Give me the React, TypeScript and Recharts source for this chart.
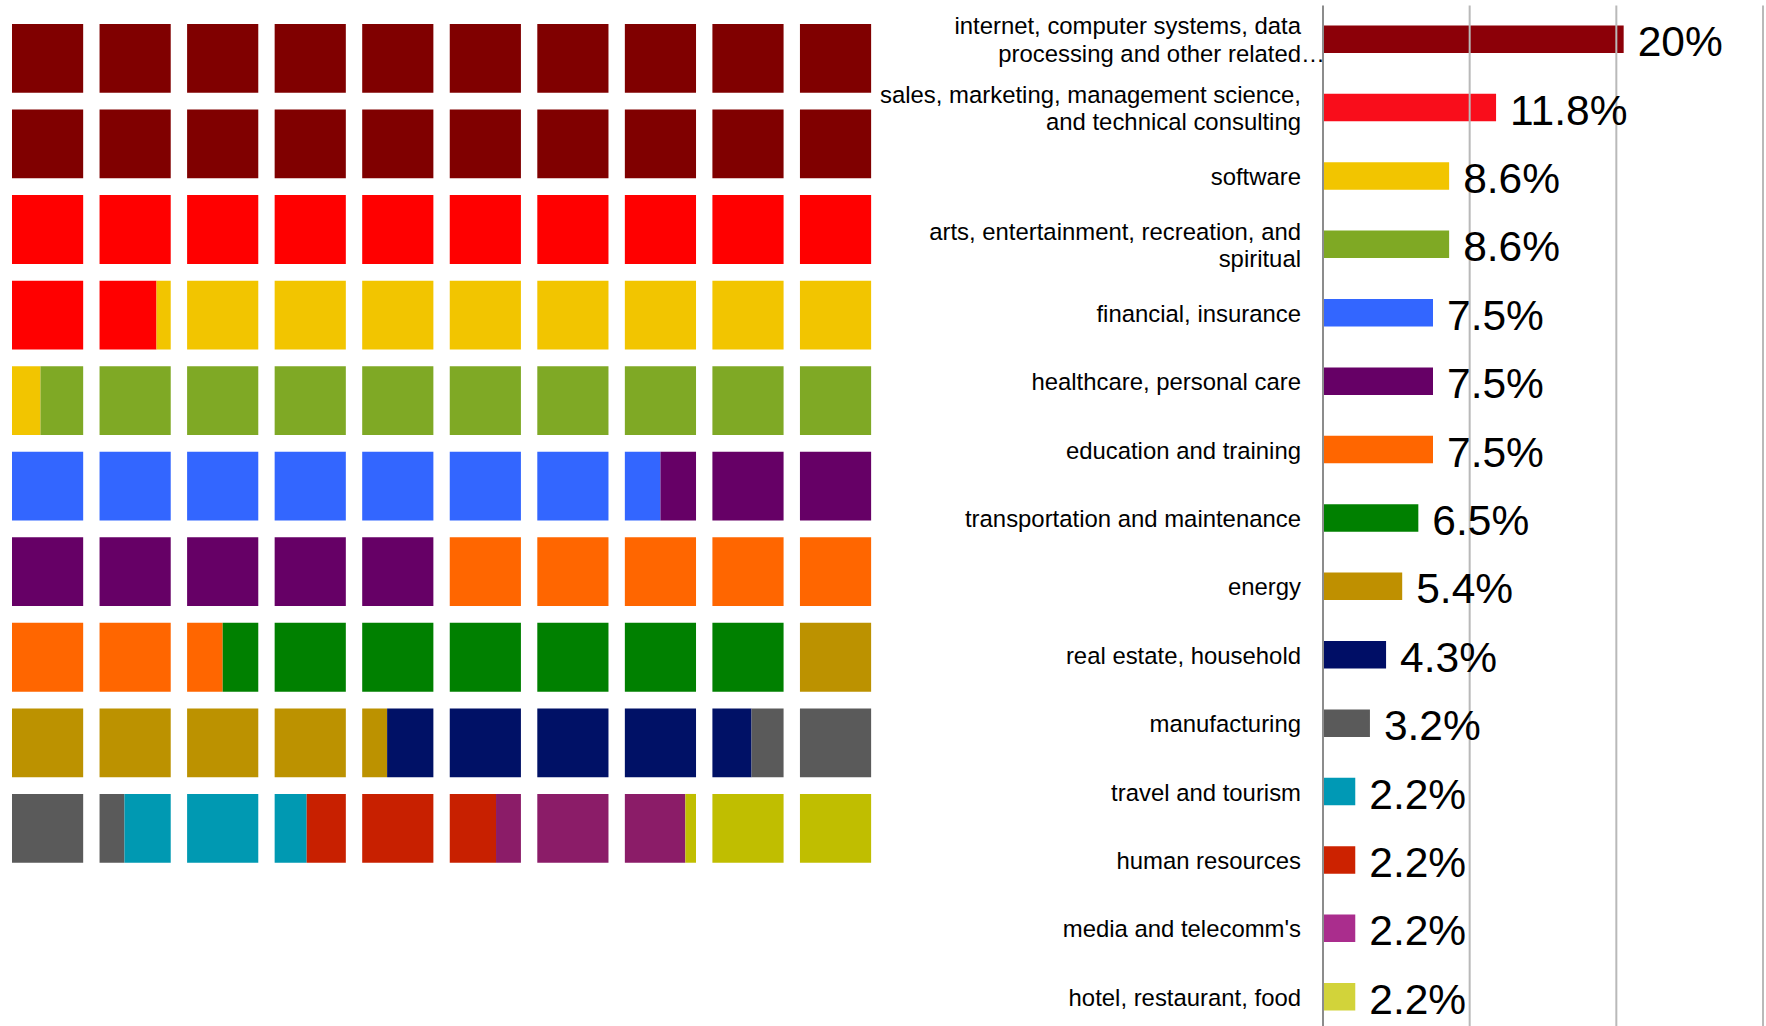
import React from 'react';
import {
  BarChart,
  Bar,
  XAxis,
  YAxis,
  Cell,
  LabelList,
  ReferenceLine,
  ReferenceArea,
  ComposedChart,
} from 'recharts';

// ---------- data ----------
const categories: string[] = [
  'internet, computer systems, data\nprocessing and other related…',
  'sales, marketing, management science,\nand technical consulting',
  'software',
  'arts, entertainment, recreation, and\nspiritual',
  'financial, insurance',
  'healthcare, personal care',
  'education and training',
  'transportation and maintenance',
  'energy',
  'real estate, household',
  'manufacturing',
  'travel and tourism',
  'human resources',
  "media and telecomm's",
  'hotel, restaurant, food',
];

const barValues: number[] = [20.5, 11.8, 8.6, 8.6, 7.5, 7.5, 7.5, 6.5, 5.4, 4.3, 3.2, 2.2, 2.2, 2.2, 2.2];

const barLabels: string[] = [
  '20%', '11.8%', '8.6%', '8.6%', '7.5%', '7.5%', '7.5%', '6.5%', '5.4%', '4.3%', '3.2%', '2.2%', '2.2%', '2.2%', '2.2%',
];

const barColors: string[] = [
  '#8c0008', '#f90d1b', '#f2c500', '#7fa924', '#3366ff', '#660066', '#ff6600', '#008000',
  '#bf9000', '#000e66', '#5a5a5a', '#0099b5', '#cc2200', '#aa2d8d', '#d2d33a',
];

// waffle shares (cells out of 100)
const waffleShares: number[] = [20, 11.8, 8.6, 9.6, 7.5, 7.5, 7.5, 6.5, 5.35, 4.2, 2.8, 2.1, 2.2, 2.2, 2.15];

const waffleColors: string[] = [
  '#800000', '#ff0000', '#f2c500', '#7fa925', '#3366ff', '#660066', '#ff6600', '#008000',
  '#bc9200', '#001166', '#5a5a5a', '#0099b2', '#c82000', '#8b1c68', '#c0be00',
];

const gridTicks: number[] = [10, 20, 30];

// ---------- derived ----------
const barData = categories.map((name, i) => ({
  name,
  value: barValues[i],
  label: barLabels[i],
}));

const CELL_W = 0.813; // filled fraction of a column pitch
const CELL_H = 0.804; // filled fraction of a row pitch

type Seg = { x1: number; x2: number; y1: number; y2: number; color: string };

const waffleSegments: Seg[] = (() => {
  const segs: Seg[] = [];
  let start = 0;
  waffleShares.forEach((share, i) => {
    const end = Math.round((start + share) * 1e6) / 1e6;
    const s = start;
    for (let k = Math.floor(s); k < Math.ceil(end) && k < 100; k++) {
      const a = Math.max(s, k) - k;
      const b = Math.min(end, k + 1) - k;
      if (b - a < 1e-6) continue;
      const col = k % 10;
      const row = Math.floor(k / 10);
      segs.push({
        x1: col + a * CELL_W,
        x2: col + b * CELL_W,
        y1: row,
        y2: row + CELL_H,
        color: waffleColors[i],
      });
    }
    start = end;
  });
  return segs;
})();

const FONT = '"Liberation Sans", Arial, Helvetica, sans-serif';
const CAT_FONT_SIZE = 23.9;

const CategoryTick = (props: any) => {
  const { x, y, payload } = props;
  const lines = String(payload.value).split('\n');
  const lh = 27.5;
  const tx = x - 22;
  return (
    <g>
      {lines.map((line: string, i: number) => {
        const by = y + (i - (lines.length - 1) / 2) * lh + 8.5;
        const ell = line.endsWith('…');
        const txt = ell ? line.slice(0, -1) : line;
        return (
          <g key={i}>
            <text x={tx} y={by} textAnchor="end" fontSize={CAT_FONT_SIZE} fontFamily={FONT} fill="#000">
              {txt}
            </text>
            {ell && (
              <text x={tx} y={by} textAnchor="start" fontSize={CAT_FONT_SIZE} fontFamily={FONT} fill="#000">
                …
              </text>
            )}
          </g>
        );
      })}
    </g>
  );
};

export default function App() {
  return (
    <div
      style={{
        position: 'fixed',
        left: 0,
        top: 0,
        width: 1766,
        height: 1026,
        overflow: 'hidden',
        background: '#ffffff',
        fontFamily: FONT,
      }}
    >
      <div style={{ position: 'absolute', left: 0, top: 0 }}>
        <ComposedChart
          width={900}
          height={900}
          data={[{ x: 0, y: 0 }]}
          margin={{ top: 24, right: 12.5, bottom: 20.5, left: 12 }}
        >
          <XAxis type="number" dataKey="x" domain={[0, 10]} hide allowDataOverflow />
          <YAxis type="number" dataKey="y" domain={[0, 10]} reversed hide allowDataOverflow />
          {waffleSegments.map((s, i) => (
            <ReferenceArea
              key={i}
              x1={s.x1}
              x2={s.x2}
              y1={s.y1}
              y2={s.y2}
              fill={s.color}
              fillOpacity={1}
              stroke="none"
              ifOverflow="visible"
            />
          ))}
        </ComposedChart>
      </div>
      <div style={{ position: 'absolute', left: 820, top: 0 }}>
        <BarChart
          width={946}
          height={1040}
          layout="vertical"
          data={barData}
          margin={{ top: 5.4, right: 3, bottom: 8.6, left: 0 }}
        >
          <XAxis type="number" domain={[0, 30]} hide allowDataOverflow />
          <YAxis
            type="category"
            dataKey="name"
            width={503}
            axisLine={false}
            tickLine={false}
            tickSize={0}
            tickMargin={0}
            interval={0}
            tick={<CategoryTick />}
          />
          {gridTicks.map((t) => (
            <ReferenceLine key={t} x={t} stroke="#b9b9b9" strokeWidth={2} ifOverflow="visible" />
          ))}
          <ReferenceLine x={0} stroke="#8c8c8c" strokeWidth={2} ifOverflow="visible" />
          <Bar dataKey="value" barSize={27.5} isAnimationActive={false}>
            {barData.map((d, i) => (
              <Cell key={i} fill={barColors[i]} />
            ))}
            <LabelList
              dataKey="label"
              position="right"
              offset={14}
              dy={2}
              fontSize={42.5}
              fontFamily={FONT}
              fill="#000"
            />
          </Bar>
        </BarChart>
      </div>
    </div>
  );
}
